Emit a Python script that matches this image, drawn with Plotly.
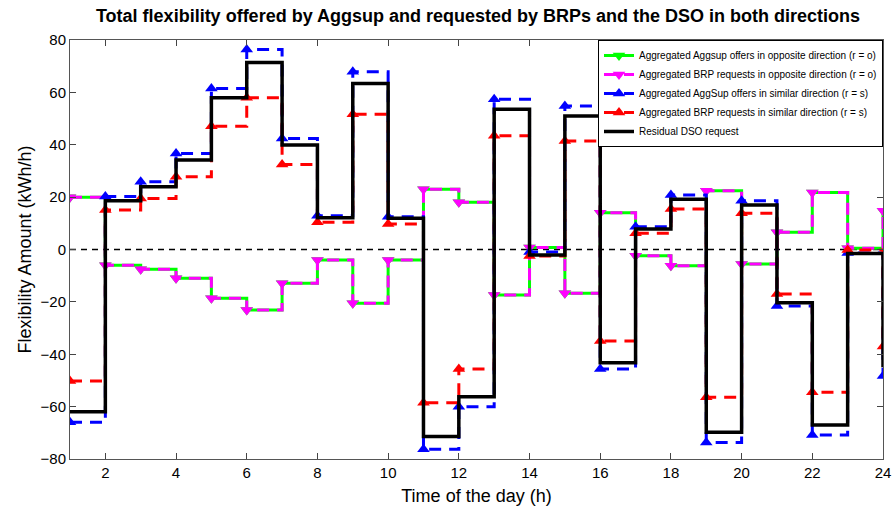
import plotly.graph_objects as go

hours = list(range(1, 25))
aggsup_opp = [20, -6, -7.5, -11, -18.6, -23.1, -12.9, -4, -20.5, -4, 23, 18, -17.4, 0.8, -16.7, 14, -2.4, -6.2, 22.4, -5.5, 6.6, 21.8, 0.5, 14.8]
brp_opp = [20, -6, -7.5, -11, -18.6, -23.1, -12.9, -4, -20.5, -4, 23, 18, -17.4, 0.8, -16.7, 14, -2.4, -6.2, 22.4, -5.5, 6.6, 21.8, 0.5, 14.8]
aggsup_sim = [-66, 20.2, 25.9, 36.7, 61.5, 76.4, 42.4, 12.9, 67.9, 12.5, -76.3, -60, 57.4, -1, 54.8, -45.6, 8.7, 20.8, -73.7, 18.6, -21.6, -70.8, -1.3, -48.3]
brp_sim = [-50.2, 15.1, 19.5, 27.8, 47.1, 57.9, 32.5, 10.4, 51.6, 9.7, -58.5, -45.6, 43.4, -2.5, 41.4, -34.9, 6.2, 15.5, -56.4, 13.8, -17, -54.5, -0.2, -37]
residual_dso = [-62, 18.6, 24, 34.2, 57.9, 71.4, 39.9, 12.1, 63.4, 11.9, -71.4, -56.2, 53.6, -2.1, 51, -43.2, 7.8, 19.2, -69.8, 17, -20.3, -67, -1.5, -45]

x_ticks = list(range(2, 25, 2))
y_ticks = list(range(-80, 81, 20))

FONT = "Liberation Sans, Arial, sans-serif"
DASH = "12px,8px"

fig = go.Figure()

# zero reference line
fig.add_trace(go.Scatter(x=[hours[0], hours[-1]], y=[0, 0], mode="lines",
                         line=dict(color="black", width=1.5, dash="6px,5px"),
                         showlegend=False, hoverinfo="skip"))

fig.add_trace(go.Scatter(x=hours, y=aggsup_opp, mode="lines+markers", line_shape="hv",
                         name="Aggregated Aggsup offers in opposite direction (r = o)",
                         line=dict(color="#00ff00", width=3),
                         marker=dict(symbol="triangle-down", size=11, color="#00ff00")))
fig.add_trace(go.Scatter(x=hours, y=brp_opp, mode="lines+markers", line_shape="hv",
                         name="Aggregated BRP requests in opposite direction (r = o)",
                         line=dict(color="#ff00ff", width=3, dash=DASH),
                         marker=dict(symbol="triangle-down", size=11, color="#ff00ff")))
fig.add_trace(go.Scatter(x=hours, y=aggsup_sim, mode="lines+markers", line_shape="hv",
                         name="Aggregated AggSup offers in similar direction (r = s)",
                         line=dict(color="#0000ff", width=3, dash=DASH),
                         marker=dict(symbol="triangle-up", size=11, color="#0000ff")))
fig.add_trace(go.Scatter(x=hours, y=brp_sim, mode="lines+markers", line_shape="hv",
                         name="Aggregated BRP requests in similar direction (r = s)",
                         line=dict(color="#ff0000", width=3, dash=DASH),
                         marker=dict(symbol="triangle-up", size=11, color="#ff0000")))
fig.add_trace(go.Scatter(x=hours, y=residual_dso, mode="lines", line_shape="hv",
                         name="Residual DSO request",
                         line=dict(color="black", width=3.5)))

fig.update_layout(
    width=893, height=507,
    margin=dict(l=70, r=10, t=40, b=48),
    paper_bgcolor="white", plot_bgcolor="white",
    font=dict(family=FONT, size=14, color="black"),
    title=dict(text="<b>Total flexibility offered by Aggsup and requested by BRPs and the DSO in both directions</b>",
               x=478 / 893, xanchor="center", y=1 - 16 / 507, yanchor="middle",
               font=dict(family=FONT, size=18, color="black")),
    legend=dict(x=1, xanchor="right", y=1, yanchor="top",
                bgcolor="white", bordercolor="black", borderwidth=1,
                font=dict(family=FONT, size=10, color="black"),
                tracegroupgap=0, itemwidth=30),
    showlegend=True,
)
fig.update_xaxes(range=[1, 24], tickvals=x_ticks, ticks="inside", ticklen=6,
                 showline=True, linecolor="#555555", linewidth=1, mirror="ticks",
                 showgrid=False, zeroline=False, automargin=False,
                 title=dict(text="Time of the day (h)", standoff=9, font=dict(size=18)),
                 tickfont=dict(size=15))
fig.update_yaxes(range=[-80, 80], tickvals=y_ticks, ticks="inside", ticklen=6,
                 showline=True, linecolor="#555555", linewidth=1, mirror="ticks",
                 showgrid=False, zeroline=False, automargin=False,
                 title=dict(text="Flexibility Amount (kWh/h)", standoff=4, font=dict(size=18)),
                 tickfont=dict(size=15))

fig.write_html("out.html")
